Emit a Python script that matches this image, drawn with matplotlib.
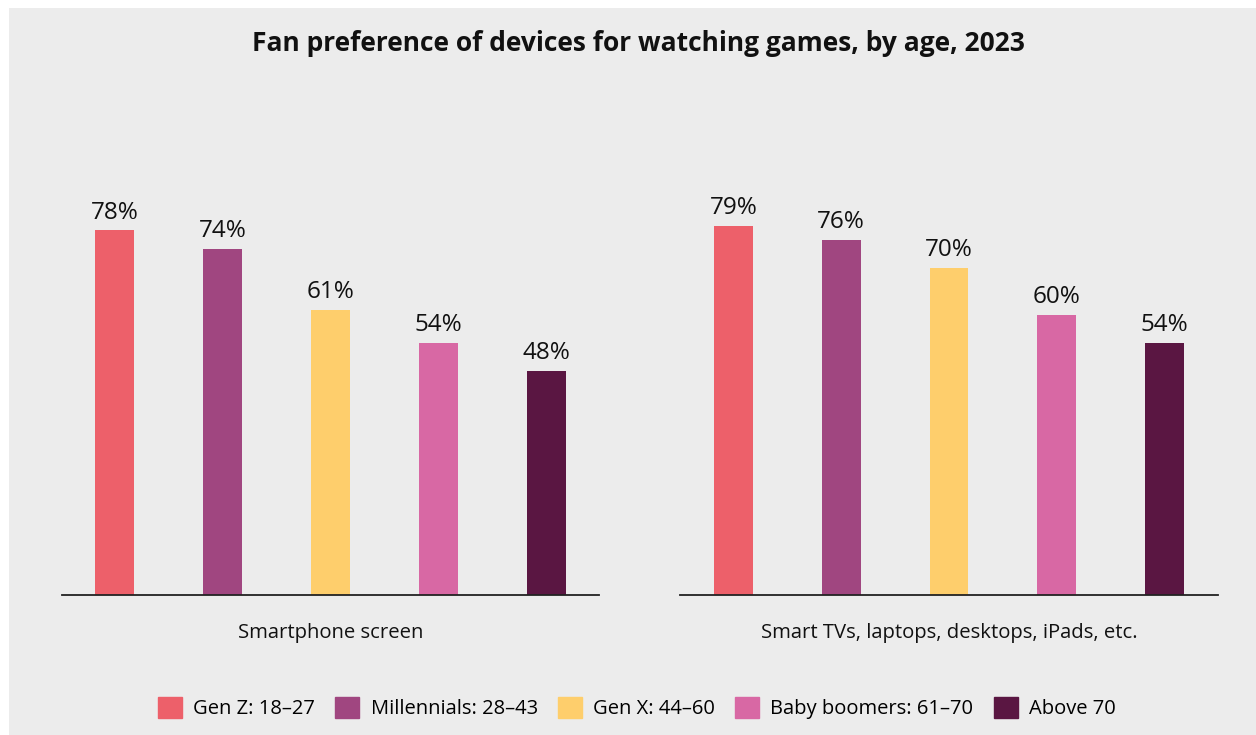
import matplotlib
matplotlib.use('Agg')
import matplotlib.pyplot as plt
import matplotlib.patches as mpatches
import numpy as np

plt.rcParams['font.family'] = ['Open Sans', 'DejaVu Sans']

groups = ['Gen Z: 18–27', 'Millennials: 28–43', 'Gen X: 44–60',
          'Baby boomers: 61–70', 'Above 70']
colors = ['#ed606a', '#a04680', '#fece6c', '#d868a4', '#5a1642']
devices = ['Smartphone screen', 'Smart TVs, laptops, desktops, iPads, etc.']
smartphone = [78, 74, 61, 54, 48]
other_devices = [79, 76, 70, 60, 54]

bg = '#ececec'
fig = plt.figure(figsize=(12.56, 7.35), dpi=100, facecolor='white')
# grey panel with white margin at top/left
fig.patches.append(mpatches.Rectangle((9 / 1256, 0), 1, 1 - 8 / 735,
                                      transform=fig.transFigure,
                                      facecolor=bg, edgecolor='none', zorder=-1))

fig.text(0.508, 1 - 51 / 735, 'Fan preference of devices for watching games, by age, 2023',
         ha='center', va='baseline', fontsize=19, fontweight='bold', color='#111111')

x = np.arange(len(groups))
lefts = [62 / 1256, 680.5 / 1256]
for left, label, values in zip(lefts, devices, [smartphone, other_devices]):
    ax = fig.add_axes([left, 140 / 735, 537 / 1256, 467.5 / 735])
    ax.set_facecolor('none')
    bars = ax.bar(x, values, width=0.36, color=colors)
    ax.bar_label(bars, labels=[f'{v}%' for v in values], padding=4,
                 fontsize=17.5, color='#111111')
    ax.set_xlim(-0.49, 4.49)
    ax.set_ylim(0, 100)
    for s in ['top', 'right', 'left']:
        ax.spines[s].set_visible(False)
    ax.spines['bottom'].set_color('#222222')
    ax.spines['bottom'].set_linewidth(1.3)
    ax.set_yticks([])
    ax.set_xticks([])
    ax.set_xlabel(label, fontsize=14.6, color='#111111', labelpad=20)

handles = [mpatches.Patch(color=c, label=g) for c, g in zip(colors, groups)]
fig.legend(handles=handles, loc='center', bbox_to_anchor=(0.507, 1 - 708 / 735),
           ncol=5, frameon=False, handlelength=1.2, handleheight=1.2,
           handletextpad=0.55, columnspacing=1.0,
           prop={'family': ['Open Sans', 'DejaVu Sans'], 'size': 14.5})

fig.savefig('out.png', dpi=100, facecolor='white')
